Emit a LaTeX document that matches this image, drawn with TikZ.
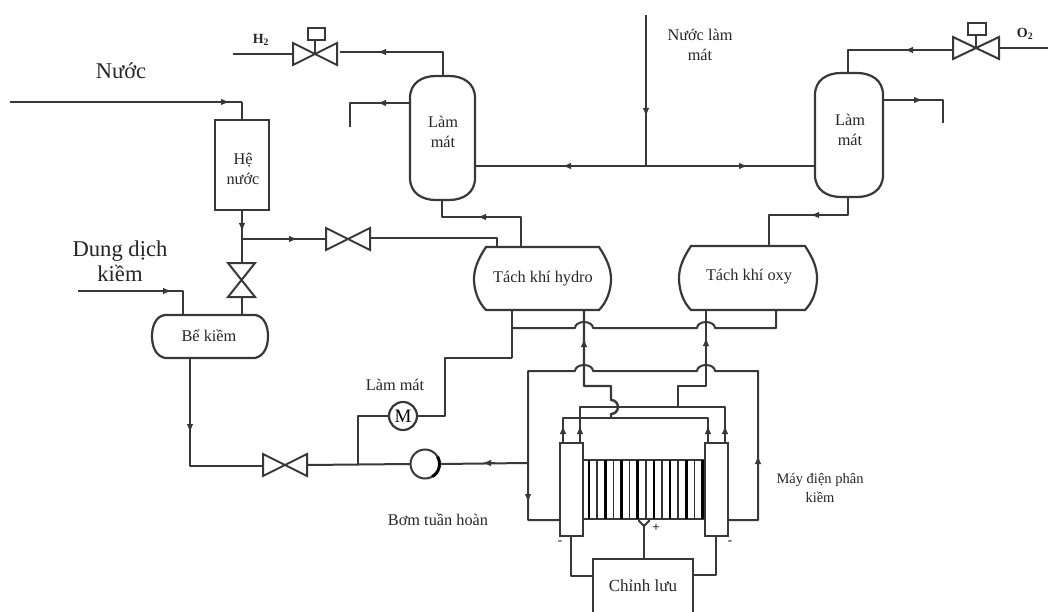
\documentclass[tikz,border=0pt]{standalone}
\usepackage{fontspec}
\setmainfont{Liberation Serif}
\usetikzlibrary{arrows.meta,calc}
\tikzset{
  pipe/.style={draw=black!78,line width=2pt,line join=round},
  vessel/.style={draw=black!78,line width=2.2pt,fill=white},
  label/.style={text=black!85,font=\fontsize{16.3}{19.5}\selectfont,align=center,inner sep=0pt},
  flowmark/.style={-{Latex[length=9pt,width=6.5pt]},draw=black!78,line width=2pt},
  valvebody/.style={draw=black!78,line width=2pt,fill=white,line join=miter},
  plate/.style={draw=black!80,line width=1.6pt},
  plateb/.style={draw=black,line width=2.6pt},
  hop/.style={start angle=180,end angle=360,x radius=9,y radius=6},
}
\newcommand{\flowat}[3]{\draw[flowmark] (#1) -- ++(#2:#3);}
\newcommand{\hvalve}[3]{% center x,y,half width
  \draw[valvebody] (#1-#3,#2-11) -- (#1+#3,#2+11) -- (#1+#3,#2-11) -- (#1-#3,#2+11) -- cycle;}
\newcommand{\dome}[5]{% name, x1,y1,x2,y2 -- vertical drum
  \draw[vessel] (#2,#3+22) .. controls (#2,#3+7) and (#2+12,#3) .. (#2+26,#3)
    -- (#4-26,#3) .. controls (#4-12,#3) and (#4,#3+7) .. (#4,#3+22)
    -- (#4,#5-22) .. controls (#4,#5-7) and (#4-12,#5) .. (#4-26,#5)
    -- (#2+26,#5) .. controls (#2+12,#5) and (#2,#5-7) .. (#2,#5-22) -- cycle;
  \coordinate (#1) at ({(#2+#4)/2},{(#3+#5)/2});}
\newcommand{\sep}[5]{% name,x1,y1,x2,y2 -- horizontal separator
  \draw[vessel] (#2+12,#3) -- (#4-12,#3) .. controls (#4-4,#3+12) and (#4,#3+22) .. (#4,#3+32)
    .. controls (#4,#5-20) and (#4-4,#5-8) .. (#4-12,#5)
    -- (#2+12,#5) .. controls (#2+4,#5-8) and (#2,#5-20) .. (#2,#3+32)
    .. controls (#2,#3+22) and (#2+4,#3+12) .. (#2+12,#3) -- cycle;
  \coordinate (#1) at ({(#2+#4)/2},{(#3+#5)/2});}
\begin{document}
\begin{tikzpicture}[x=1pt,y=-1pt]
\useasboundingbox (0,0) rectangle (1048,612);
\fill[white] (0,0) rectangle (1048,612);

% coordinates for free ends
\coordinate (h2in) at (233,54);
\coordinate (o2out) at (1048,48);
\coordinate (waterin) at (10,102);
\coordinate (alkin) at (78,291);
\coordinate (cwin) at (646,15);

% pipes top left
\draw[pipe] (h2in) -- (293,54);
\draw[pipe] (340,52) -- (443,52) -- (443,76);
\draw[pipe] (410,103) -- (350,103) -- (350,127);
\draw[pipe,line width=1.3pt] (waterin) -- (242,102);
\draw[pipe] (242,102) -- (242,120);
\draw[pipe,line width=2.6pt] (242,210) -- (242,263);
\draw[pipe] (242,239) -- (325,239);
\draw[pipe] (371,238) -- (497,238) -- (497,247);
\draw[pipe] (442,200) -- (442,217) -- (521,217) -- (521,247);
\draw[pipe] (alkin) -- (183,291) -- (183,315);
\draw[pipe] (242,297) -- (242,315);
% cooling water
\draw[pipe] (cwin) -- (646,166);
\draw[pipe,line width=2.4pt] (475,166) -- (815,166);
% right top
\draw[pipe] (848,73) -- (848,50) -- (953,50);
\draw[pipe] (1000,48) -- (o2out);
\draw[pipe] (883,100) -- (943,100) -- (943,123);
\draw[pipe] (848,197) -- (848,215) -- (769,215) -- (769,246);
% recirculation bottom left
\draw[pipe] (190,358) -- (190,466) -- (263,466);
\draw[pipe] (307,465) -- (410,464);
\draw[pipe] (440,464) -- (528,463);
\draw[pipe] (358,464) -- (358,416) -- (389,416);
\draw[pipe] (417,416) -- (445,416) -- (445,358) -- (512,358);
\draw[pipe] (512,310) -- (512,358);
% upper collector with bridges
\draw[pipe] (512,328) -- (575,328) arc[hop] -- (697,328) arc[hop] -- (776,328) -- (776,310);
% lower collector
\draw[pipe] (560,520) -- (528,520) -- (528,371) -- (575,371) arc[hop] -- (697,371) arc[hop] -- (758,371) -- (758,520) -- (728,520);
% risers
\draw[pipe,line width=2.4pt] (584,310) -- (584,386) -- (611,386) -- (611,400) arc[start angle=-90,end angle=90,radius=7] -- (611,418);
\draw[pipe,line width=2.4pt] (706,310) -- (706,386) -- (678,386) -- (678,407);
\draw[pipe] (580,443) -- (580,407) -- (725,407) -- (725,443);
\draw[pipe] (563,443) -- (563,418) -- (708,418) -- (708,443);

% vessels
\dome{cooleron}{410}{76}{475}{200}
\dome{cooleroff}{815}{73}{883}{197}
\sep{hydro}{474}{247}{611}{310}
\sep{oxy}{679}{246}{817}{310}
\node[vessel,draw,minimum width=54pt,minimum height=90pt,inner sep=0pt] (tank) at (242,165) {};
\draw[vessel] (165,315) -- (255,315) .. controls (264,316) and (268,326) .. (268,336) .. controls (268,347) and (264,356) .. (255,358) -- (165,358) .. controls (156,356) and (152,347) .. (152,336) .. controls (152,326) and (156,316) .. (165,315) -- cycle;
\coordinate (alk) at (209,336);

% electrolyser
\draw[pipe,line width=1.6pt] (583,460) -- (705,460);
\draw[pipe,line width=2pt] (583,519) -- (705,519);
\foreach \k in {0,2,...,14} \draw[plateb] ({589+8.1*\k},460) -- ({589+8.1*\k},519);
\foreach \k in {1,3,...,13} \draw[plate] ({589+8.1*\k},460) -- ({589+8.1*\k},519);
\node[vessel,draw,minimum width=23pt,minimum height=93pt,inner sep=0pt] (cellL) at (571.5,489.5) {};
\node[vessel,draw,minimum width=23pt,minimum height=93pt,inner sep=0pt] (cellR) at (716.5,489.5) {};
\node[vessel,draw,minimum width=100pt,minimum height=60pt,inner sep=0pt] (rect) at (643,589) {};
\draw[pipe] (571,536) -- (571,576) -- (593,576);
\draw[pipe] (716,536) -- (716,575) -- (693,575);
\draw[pipe,line width=2.6pt] (644,524) -- (644,559);
\draw[pipe] (639,519) -- (639,521) -- (644,526) -- (649,521) -- (649,519);

% valves
\hvalve{315}{54}{22}
\draw[pipe] (315,54) -- (315,40);
\node[draw=black!78,line width=2pt,fill=white,minimum width=17pt,minimum height=12pt,inner sep=0pt] (actH) at (316,34) {};
\hvalve{976}{48}{23}
\draw[pipe] (976,48) -- (976,35);
\node[draw=black!78,line width=2pt,fill=white,minimum width=18pt,minimum height=12pt,inner sep=0pt] (actO) at (977,29) {};
\hvalve{348}{239}{22}
\hvalve{285}{465}{22}
\draw[valvebody] (228,263) -- (255,263) -- (228,297) -- (255,297) -- cycle;

% pump and cooler
\node[circle,draw=black!78,line width=2pt,fill=white,minimum size=29pt,inner sep=0pt] (pump) at (425,464) {};
\draw[black,line width=3pt] (pump.center) ++(-30:14.5) arc[start angle=-30,end angle=60,radius=14.5];
\node[circle,draw=black!78,line width=2.2pt,fill=white,minimum size=28pt,inner sep=0pt,font=\fontsize{19}{19}\selectfont] (hx) at (403,416) {M};

% flow marks
\flowat{217,102}{0}{13}
\flowat{390,52}{180}{13}
\flowat{390,103}{180}{13}
\flowat{285,239}{0}{13}
\flowat{242,219}{90}{13}
\flowat{490,217}{180}{13}
\flowat{160,291}{0}{12}
\flowat{190,420}{90}{13}
\flowat{646,104}{90}{13}
\flowat{575,166}{180}{13}
\flowat{735,166}{0}{13}
\flowat{917,50}{180}{13}
\flowat{910,100}{0}{13}
\flowat{823,215}{180}{13}
\flowat{495,463}{180}{13}
\flowat{584,351}{-90}{13}
\flowat{706,350}{-90}{13}
\flowat{528,490}{90}{13}
\flowat{758,468}{-90}{13}
\flowat{563,438}{-90}{13}
\flowat{580,438}{-90}{13}
\flowat{708,438}{-90}{13}
\flowat{725,438}{-90}{13}

% texts
\node[label,font=\fontsize{22.5}{25}\selectfont] (lwater) at (121,71) {Nước};
\node[label,font=\fontsize{22.6}{25}\selectfont] (lalk) at (120,261) {Dung dịch\\kiềm};
\node[label,font=\bfseries\fontsize{14}{16}\selectfont] (lh2) at (261,40) {H\textsubscript{2}};
\node[label,font=\bfseries\fontsize{14}{16}\selectfont] (lo2) at (1025,34) {O\textsubscript{2}};
\node[label] (lcw) at (700,45) {Nước làm\\mát};
\node[label] (l1) at (443,132) {Làm\\mát};
\node[label] (l2) at (850,130) {Làm\\mát};
\node[label] (l3) at (243,169) {Hệ\\nước};
\node[label] (l4) at (543,279) {Tách khí hydro};
\node[label] (l5) at (749,277) {Tách khí oxy};
\node[label] (l6) at (alk) {Bể kiềm};
\node[label] (l7) at (395,385) {Làm mát};
\node[label] (l8) at (438,520) {Bơm tuần hoàn};
\node[label,font=\fontsize{14.5}{19}\selectfont] (l9) at (820,488) {Máy điện phân\\kiềm};
\node[label,font=\fontsize{17}{19}\selectfont] (l10) at (643,586) {Chỉnh lưu};
\node[label,font=\bfseries\fontsize{13}{13}\selectfont] (lm1) at (560,543) {-};
\node[label,font=\bfseries\fontsize{13}{13}\selectfont] (lm2) at (730,543) {-};
\node[label,font=\bfseries\fontsize{13}{13}\selectfont] (lp) at (656,528) {+};
\end{tikzpicture}
\end{document}
